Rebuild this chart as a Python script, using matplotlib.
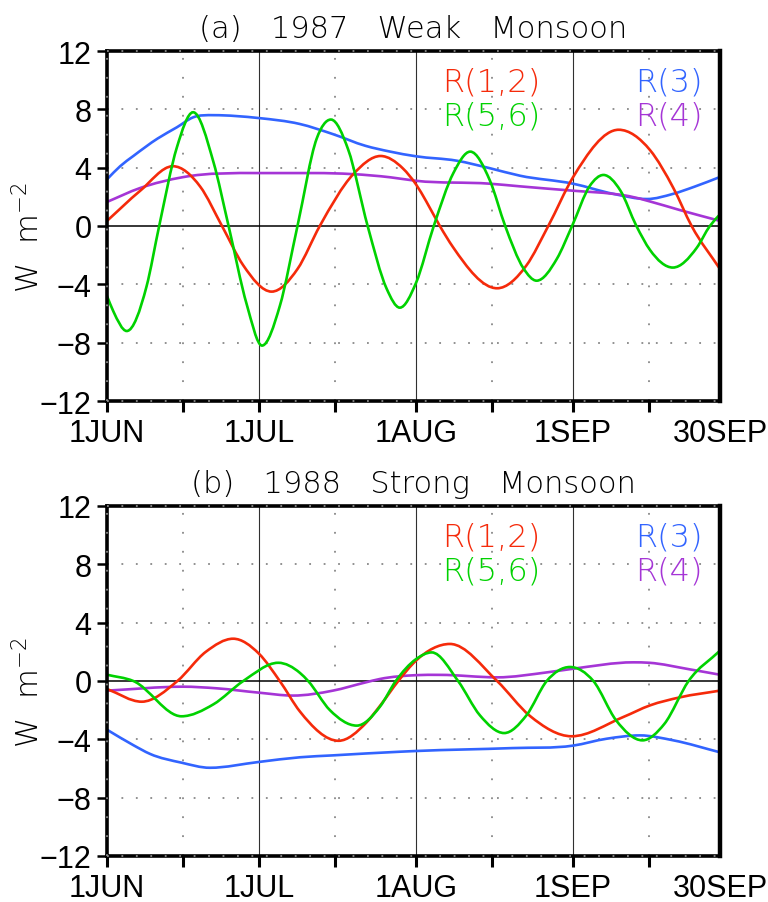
import numpy as np
import matplotlib
matplotlib.use('Agg')
import matplotlib.pyplot as plt
from matplotlib.path import Path
from matplotlib.patches import PathPatch

# days counted from 1 JUN (day 0) to 30 SEP (day 121), values in W m-2
# ---- (a) 1987 weak monsoon ----
a_red_day = [0, 6.5, 13, 18.4, 22.7, 26.9, 32.5, 37.6, 42, 48.6, 54, 58.4, 61, 63, 65.7, 68.3,
             77, 82.8, 87.1, 92, 101, 107.2, 111.8, 115.4, 121]
a_red_val = [0.35, 2.4, 4.1, 2.7, 0, -2.7, -4.5, -2.95, 0, 3.55, 4.8, 3.95, 2.85, 1.7, 0, -1.45,
             -4.27, -2.7, 0, 3.35, 6.6, 5.2, 2.6, 0, -2.95]
a_green_day = [0, 1.25, 3.9, 7.8, 10.3, 13.8, 17, 21, 24, 27.6, 30.6, 34.1, 37.6, 41.4, 44.2, 47.6,
               51.45, 55.2, 57.8, 61, 64.5, 68.4, 71.7, 75.6, 78.6, 82.2, 84.8, 88.8, 91.8, 95.3,
               98, 101.3, 104.5, 107.2, 111.7, 116.4, 119, 121]
a_green_val = [-4.8, -5.85, -7.2, -4.15, 0, 5.4, 7.8, 4.4, 0, -5.4, -8.2, -5.5, 0, 6.0, 7.3, 5.25,
               0, -4.3, -5.6, -3.9, 0, 3.65, 5.1, 3.1, 0, -2.9, -3.75, -2.25, 0, 2.75,
               3.5, 2.45, 0, -1.65, -2.85, -1.5, 0, 0.8]
a_blue_day = [0, 2.6, 5.2, 10, 13.8, 17, 21, 30, 38, 44.6, 51, 55.9, 61, 69, 75.6, 81.5, 92,
              100, 106.6, 111.7, 116, 121]
a_blue_val = [3.2, 4.1, 4.8, 6.0, 6.77, 7.45, 7.6, 7.4, 7.0, 6.3, 5.5, 5.1, 4.78, 4.48, 3.96, 3.45, 2.9,
              2.2, 1.85, 2.2, 2.7, 3.36]
a_purple_day = [0, 6.5, 15, 30, 41, 55.9, 61, 75.6, 81.5, 92, 100, 103, 107, 113, 121]
a_purple_val = [1.65, 2.6, 3.35, 3.63, 3.63, 3.34, 3.1, 2.9, 2.72, 2.42, 2.2, 2.05, 1.7, 1.1, 0.35]

# ---- (b) 1988 strong monsoon ----
b_red_day = [0, 6.85, 13.9, 19.5, 24.9, 30, 34.1, 38.1, 45.7, 51.2, 54, 57.5, 61, 67.7,
             77, 83.5, 91.7, 101.9, 107.2, 113.1, 121]
b_red_val = [-0.55, -1.42, 0, 2.0, 2.9, 1.87, 0, -2.1, -4.1, -2.85, -1.65, 0, 1.4, 2.54,
             0, -2.4, -3.79, -2.47, -1.67, -1.12, -0.66]
b_green_day = [0, 5.2, 14.7, 21, 26.9, 33.8, 38.1, 39.7, 44, 49.3, 53.9, 57, 61, 64.1, 69.3,
               73.6, 78.4, 82.8, 86.8, 91.4, 96, 100.5, 105.7, 110, 114.8, 121]
b_green_val = [0.43, 0, -2.42, -1.6, 0, 1.25, 0.55, 0, -2.0, -3.06, -1.75, 0, 1.5, 1.96, 0,
               -2.35, -3.57, -2.35, 0, 0.96, 0, -2.7, -4.07, -2.95, 0, 2.08]
b_blue_day = [0, 5.2, 8.5, 14.7, 20.3, 30, 38.1, 44.6, 57.8, 61, 80, 92, 98.6, 105.2, 111.8, 121]
b_blue_val = [-3.34, -4.4, -5.0, -5.6, -5.95, -5.55, -5.23, -5.1, -4.85, -4.8, -4.6, -4.43, -3.96,
              -3.73, -4.07, -4.89]
b_purple_day = [0, 15, 21.6, 30, 36.7, 44.6, 51, 53.9, 61, 65.7, 77, 86.8, 92, 103.9, 107, 115, 121]
b_purple_val = [-0.66, -0.39, -0.5, -0.8, -1.0, -0.66, -0.1, 0.14, 0.4, 0.42, 0.25, 0.59, 0.84,
                1.28, 1.25, 0.8, 0.43]

tick_days = [0, 15, 30, 45, 61, 76, 92, 107, 121]
tick_labels = ['1JUN', '', '1JUL', '', '1AUG', '', '1SEP', '', '30SEP']
month_days = [30, 61, 92]
mid_days = [0, 15, 45, 76, 107]
y_ticks = [-12, -8, -4, 0, 4, 8, 12]

RED = '#f52a0a'
GREEN = '#00d200'
BLUE = '#3264ff'
PURPLE = '#a535d6'

THIN = ['DejaVu Sans']
TICKF = ['Liberation Sans']
plt.rcParams['mathtext.default'] = 'regular'


def smooth_curve(ax, xs, ys, color):
    """draw the read points as a smooth bezier path (bessel tangents, flat at extremes)"""
    x = np.asarray(xs, float)
    y = np.asarray(ys, float)
    h = np.diff(x)
    d = np.diff(y) / h
    m = np.zeros_like(y)
    m[0], m[-1] = d[0], d[-1]
    for k in range(1, len(x) - 1):
        if d[k - 1] * d[k] > 0:
            m[k] = (h[k] * d[k - 1] + h[k - 1] * d[k]) / (h[k - 1] + h[k])
    verts = [(x[0], y[0])]
    codes = [Path.MOVETO]
    for k in range(len(x) - 1):
        verts += [(x[k] + h[k] / 3, y[k] + m[k] * h[k] / 3),
                  (x[k + 1] - h[k] / 3, y[k + 1] - m[k + 1] * h[k] / 3),
                  (x[k + 1], y[k + 1])]
        codes += [Path.CURVE4] * 3
    ax.add_patch(PathPatch(Path(verts, codes), fill=False, edgecolor=color,
                           linewidth=1.9, zorder=4, capstyle='round'))


def style_axes(ax, title):
    ax.set_xlim(0, 121)
    ax.set_ylim(-12, 12)
    for s in ax.spines.values():
        s.set_linewidth(2.6)
        s.set_zorder(6)
    ax.spines['right'].set_linewidth(3.2)
    ax.set_xticks(tick_days)
    ax.set_xticklabels(tick_labels, family=TICKF, fontsize=22)
    ax.xaxis.get_major_ticks()[-1].tick1line.set_visible(False)
    ax.set_yticks(y_ticks)
    ax.set_yticklabels([f'{v}'.replace('-', '\u2212') for v in y_ticks], family=TICKF, fontsize=22)
    ax.tick_params(axis='x', direction='out', length=8, width=2.2, pad=4)
    ax.tick_params(axis='y', direction='out', length=7, width=1.8, pad=4)
    # grid: solid lines at month starts, dotted at mid-months and every 4 W m-2
    for d in month_days:
        ax.axvline(d, color='#303030', linewidth=0.8, zorder=2)
    for d in mid_days:
        ax.axvline(d, color='#888888', linewidth=1.3, dashes=(1.0, 9.5), zorder=7 if d == 0 else 2,
                   clip_on=False)
    for v in [-12, -8, -4, 4, 8, 12]:
        ax.axhline(v, color='#888888', linewidth=1.3, dashes=(1.0, 7.0),
                   zorder=7 if abs(v) == 12 else 2, clip_on=False)
    ax.axhline(0, color='black', linewidth=1.1, zorder=3)
    ax.text(0.5, 1.04, title, transform=ax.transAxes, ha='center', va='baseline',
            family=THIN, fontweight='light', fontsize=22)
    ax.set_ylabel('W  m$^{-2}$', family=THIN, fontweight='light', fontsize=22)
    ax.yaxis.set_label_coords(-0.10, 0.47)
    ax.text(0.546, 0.888, 'R(1,2)', color=RED, transform=ax.transAxes, family=THIN,
            fontweight='light', fontsize=23, va='baseline', ha='left')
    ax.text(0.546, 0.79, 'R(5,6)', color=GREEN, transform=ax.transAxes, family=THIN,
            fontweight='light', fontsize=23, va='baseline', ha='left')
    ax.text(0.971, 0.888, 'R(3)', color=BLUE, transform=ax.transAxes, family=THIN,
            fontweight='light', fontsize=23, va='baseline', ha='right')
    ax.text(0.971, 0.79, 'R(4)', color=PURPLE, transform=ax.transAxes, family=THIN,
            fontweight='light', fontsize=23, va='baseline', ha='right')


fig = plt.figure(figsize=(7.68, 9.03), dpi=100)
ax_a = fig.add_axes([107 / 768, 1 - 402 / 903, 613 / 768, 350 / 903])
ax_b = fig.add_axes([107 / 768, 1 - 857 / 903, 613 / 768, 350 / 903])

style_axes(ax_a, '(a)   1987   Weak   Monsoon')
smooth_curve(ax_a, a_blue_day, a_blue_val, BLUE)
smooth_curve(ax_a, a_purple_day, a_purple_val, PURPLE)
smooth_curve(ax_a, a_red_day, a_red_val, RED)
smooth_curve(ax_a, a_green_day, a_green_val, GREEN)

style_axes(ax_b, '(b)   1988   Strong   Monsoon')
smooth_curve(ax_b, b_blue_day, b_blue_val, BLUE)
smooth_curve(ax_b, b_purple_day, b_purple_val, PURPLE)
smooth_curve(ax_b, b_red_day, b_red_val, RED)
smooth_curve(ax_b, b_green_day, b_green_val, GREEN)

fig.savefig('out.png', dpi=100)
print("Saved: out.png")
